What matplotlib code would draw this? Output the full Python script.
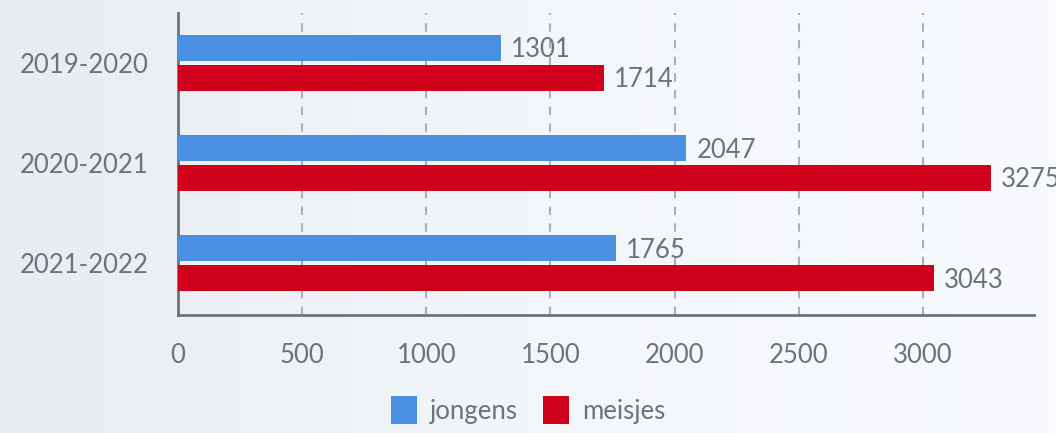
import matplotlib.pyplot as plt
import numpy as np
from matplotlib.colors import LinearSegmentedColormap

plt.rcParams['font.family'] = ['Lato', 'DejaVu Sans']

years = ['2019-2020', '2020-2021', '2021-2022']
jongens = [1301, 2047, 1765]
meisjes = [1714, 3275, 3043]

blue = '#4a90e2'
red = '#d0021b'
text_col = '#6b737c'

fig = plt.figure(figsize=(10.56, 4.33), dpi=100)

# soft background gradient
bg = fig.add_axes([0, 0, 1, 1], zorder=-10)
grad = np.linspace(0, 1, 256).reshape(1, -1)
cmap = LinearSegmentedColormap.from_list('bg', ['#e8ecf0', '#f3f6f9', '#f8fafd'])
bg.imshow(grad, aspect='auto', cmap=cmap, extent=[0, 1, 0, 1])
bg.axis('off')

ax = fig.add_axes([178 / 1056, 1 - 315 / 433, (1034 - 178) / 1056, (315 - 13) / 433])
ax.patch.set_alpha(0)

y = np.arange(len(years))
h = 0.26
fs = 18.5
ax.barh(y - 0.15, jongens, height=h, color=blue, label='jongens', zorder=3)
ax.barh(y + 0.15, meisjes, height=h, color=red, label='meisjes', zorder=3)

for yi, v in zip(y, jongens):
    ax.text(v + 40, yi - 0.13, str(v), va='center', ha='left', fontsize=fs, color=text_col, zorder=4)
for yi, v in zip(y, meisjes):
    ax.text(v + 40, yi + 0.17, str(v), va='center', ha='left', fontsize=fs, color=text_col, zorder=4, clip_on=False)

ax.set_xlim(0, 3447)
ax.set_ylim(2.52, -0.5)
ax.set_yticks(y)
ax.set_yticklabels(years)
ax.set_xticks(range(0, 3001, 500))
ax.tick_params(axis='both', length=0, labelsize=fs, labelcolor=text_col)
ax.tick_params(axis='x', pad=20)
ax.tick_params(axis='y', pad=21)

for x in range(500, 3001, 500):
    ax.axvline(x, color='#aab0b6', linestyle=(0, (4, 4)), linewidth=1.5, zorder=1)

for s in ['top', 'right']:
    ax.spines[s].set_visible(False)
for s in ['left', 'bottom']:
    ax.spines[s].set_color('#6b737c')
    ax.spines[s].set_linewidth(2)

leg = fig.legend(loc='center', bbox_to_anchor=(0.5, 1 - 410 / 433), ncol=2, frameon=False,
                 fontsize=fs, labelcolor=text_col, handlelength=1.0, handleheight=1.3,
                 handletextpad=0.5, columnspacing=1.0)

fig.savefig('out.png', dpi=100)
